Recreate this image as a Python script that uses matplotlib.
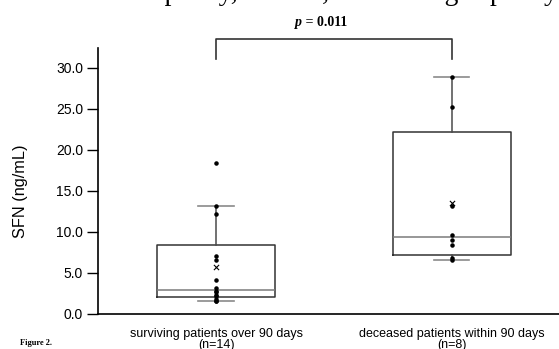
import numpy as np
import matplotlib
matplotlib.use("Agg")
import matplotlib.pyplot as plt

# serum ferritin per patient (ng/mL)
surviving = [1.5, 1.6, 1.8, 2.1, 2.3, 2.6, 2.8, 3.1, 4.1, 6.5, 7.1, 12.2, 13.1, 18.4]
deceased = [6.6, 6.8, 8.4, 9.0, 9.6, 13.1, 25.2, 28.9]
groups = [surviving, deceased]
group_names = ["surviving patients over 90 days\n(n=14)",
               "deceased patients within 90 days\n(n=8)"]
p_value = 0.011
y_ticks = [0, 5, 10, 15, 20, 25, 30]


def box_stats(values):
    # exclusive quartiles, whiskers to last point inside 1.5 IQR
    v = np.sort(np.asarray(values, dtype=float))
    q1, med, q3 = np.percentile(v, [25, 50, 75], method="weibull")
    iqr = q3 - q1
    lo = v[v >= q1 - 1.5 * iqr].min()
    hi = v[v <= q3 + 1.5 * iqr].max()
    return dict(med=med, q1=q1, q3=q3, whislo=lo, whishi=hi,
                mean=v.mean(), fliers=[])


plt.rcParams['font.family'] = ['Liberation Sans', 'DejaVu Sans']

fig = plt.figure(figsize=(5.59, 3.49), dpi=100)
ax = fig.add_axes([0.1759, 0.1011, 0.8241, 0.7605])

positions = np.arange(1, len(groups) + 1)
stats = [box_stats(g) for g in groups]
ax.bxp(stats, positions=positions, widths=0.5, capwidths=0.15,
       showfliers=False, showmeans=False, patch_artist=False,
       boxprops=dict(color="#333333", linewidth=1.1),
       medianprops=dict(color="#7a7a7a", linewidth=1.1),
       whiskerprops=dict(color="#4a4a4a", linewidth=1.1),
       capprops=dict(color="#8a8a8a", linewidth=1.2))

for pos, g, st in zip(positions, groups, stats):
    ax.scatter(np.full(len(g), pos), g, s=5, color="black", zorder=3)
    ax.scatter([pos], [st["mean"]], marker="x", s=14, color="black",
               linewidths=0.8, zorder=3)

ax.set_xlim(0.5, 2.455)
ax.set_ylim(0, 32.37)
ax.set_yticks(y_ticks)
ax.set_yticklabels(["%.1f" % t for t in y_ticks], fontsize=10)
ax.tick_params(axis="y", length=8, width=1, pad=3)
ax.set_xticks(positions)
ax.set_xticklabels(group_names, fontsize=9, linespacing=0.95)
ax.tick_params(axis="x", length=0, pad=10)

ax.spines["top"].set_visible(False)
ax.spines["right"].set_visible(False)
ax.spines["left"].set_linewidth(1.2)
ax.spines["bottom"].set_linewidth(1.2)

ax.set_ylabel("SFN (ng/mL)", fontsize=11.7)
ax.yaxis.set_label_coords(-0.1526, 0.46)

# significance bracket between the two groups
ax.plot([1, 1, 2, 2], [31.1, 33.5, 33.5, 31.1], color="#333333",
        linewidth=1.2, clip_on=False)
fig.text(0.541, 0.935, "p", fontsize=10, family="Liberation Serif",
         fontweight="bold", fontstyle="italic", ha="right", va="center")
fig.text(0.541, 0.935, " = %.3f" % p_value, fontsize=10,
         family="Liberation Serif", fontweight="bold", ha="left", va="center")

fig.text(20 / 559, 1 - 343 / 349, "Figure 2.", fontsize=6,
         family="Liberation Serif", fontweight="bold", va="center")
fig.text(140 / 559, 1.0, "capacity, ferritin, Fe-binding capacity",
         fontsize=20, family="Liberation Serif", va="baseline")

fig.savefig("out.png", dpi=100)
